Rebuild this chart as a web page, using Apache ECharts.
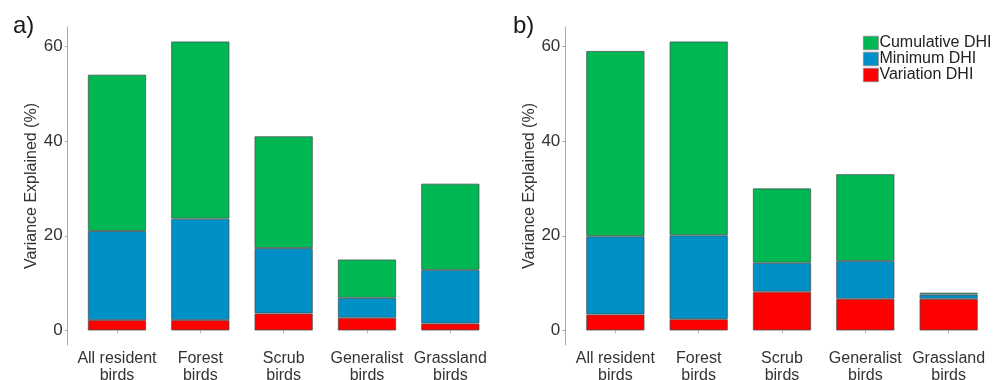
<!DOCTYPE html>
<html>
<head>
<meta charset="utf-8">
<script src="https://cdn.jsdelivr.net/npm/echarts@6/dist/echarts.min.js"></script>
<style>html,body{margin:0;padding:0;background:#fff}#c{width:994px;height:380px}</style>
</head>
<body>
<div id="c"></div>
<script>
const categories = ['All resident\nbirds', 'Forest\nbirds', 'Scrub\nbirds', 'Generalist\nbirds', 'Grassland\nbirds'];
const yTicks = [0, 20, 40, 60];
const seriesNames = ['Cumulative DHI', 'Minimum DHI', 'Variation DHI'];
// panel a) segment sizes (stacked bottom to top: variation, minimum, cumulative)
const aVariation = [2.2, 2.2, 3.6, 2.7, 1.5];
const aMinimum = [18.8, 21.4, 13.8, 4.2, 11.3];
const aCumulative = [33.0, 37.4, 23.6, 8.1, 18.2];
// panel b)
const bVariation = [3.4, 2.4, 8.2, 6.7, 6.7];
const bMinimum = [16.5, 17.7, 6.1, 8.0, 0.9];
const bCumulative = [39.1, 40.9, 15.7, 18.3, 0.4];

const colors = {'Cumulative DHI': '#00b853', 'Minimum DHI': '#0090c8', 'Variation DHI': '#ff0000'};
const font = 'Liberation Sans, Arial, sans-serif';
const border = 'rgba(70,80,80,0.75)';

function xAxis(gi) {
  return {
    type: 'category', gridIndex: gi, data: categories,
    axisLine: {show: false},
    axisTick: {show: true, alignWithLabel: true, length: 3, lineStyle: {color: '#bbb'}},
    axisLabel: {fontFamily: font, fontSize: 16, color: '#333', lineHeight: 17, margin: 5, interval: 0}
  };
}
function yAxis(gi, off) {
  return {
    type: 'value', gridIndex: gi, min: -3.05, max: 64.05, offset: off,
    name: 'Variance Explained (%)', nameLocation: 'middle', nameGap: 24,
    nameTextStyle: {fontFamily: font, fontSize: 16, color: '#333'},
    axisLine: {show: true, lineStyle: {color: '#aaa', width: 1}},
    axisTick: {show: true, length: 3, lineStyle: {color: '#aaa'}, customValues: yTicks},
    axisLabel: {fontFamily: font, fontSize: 17, color: '#333', margin: 5, customValues: yTicks},
    splitLine: {show: false}
  };
}
function bar(name, data, gi) {
  return {
    type: 'bar', name: name, data: data, stack: 'p' + gi,
    xAxisIndex: gi, yAxisIndex: gi, barWidth: '70%',
    itemStyle: {color: colors[name], borderColor: border, borderWidth: 1},
    emphasis: {disabled: true}
  };
}

const chart = echarts.init(document.getElementById('c'), null, {renderer: 'canvas'});
chart.setOption({
  animation: false,
  backgroundColor: '#fff',
  title: [
    {text: 'a)', left: 8, top: 9, textStyle: {fontFamily: font, fontSize: 24, fontWeight: 'normal', color: '#1a1a1a'}},
    {text: 'b)', left: 508, top: 9, textStyle: {fontFamily: font, fontSize: 24, fontWeight: 'normal', color: '#1a1a1a'}}
  ],
  legend: {
    data: seriesNames, orient: 'vertical', left: 863, top: 35, padding: 0,
    itemWidth: 15, itemHeight: 13.5, itemGap: 0, icon: 'rect',
    itemStyle: {borderColor: '#888', borderWidth: 0.8},
    textStyle: {fontFamily: font, fontSize: 16, color: '#222', lineHeight: 13.5, padding: [0, 0, 0, -4]},
    selectedMode: false
  },
  grid: [
    {left: 75.3, right: 502, top: 27, bottom: 35, outerBoundsMode: 'none', containLabel: false},
    {left: 573.7, right: 3.7, top: 27, bottom: 35, outerBoundsMode: 'none', containLabel: false}
  ],
  xAxis: [xAxis(0), xAxis(1)],
  yAxis: [yAxis(0, 7.6), yAxis(1, 8.4)],
  series: [
    bar('Variation DHI', aVariation, 0),
    bar('Minimum DHI', aMinimum, 0),
    bar('Cumulative DHI', aCumulative, 0),
    bar('Variation DHI', bVariation, 1),
    bar('Minimum DHI', bMinimum, 1),
    bar('Cumulative DHI', bCumulative, 1)
  ]
});
</script>
</body>
</html>
